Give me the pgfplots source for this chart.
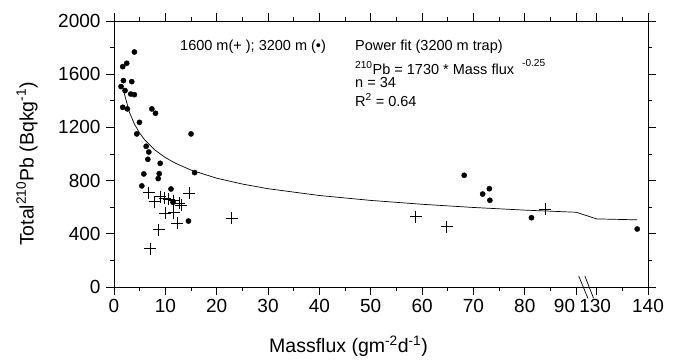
\documentclass[border=0pt]{standalone}
\usepackage{pgfplots}
\pgfplotsset{compat=1.18}
\usepackage{fontspec}
\setmainfont{Liberation Sans}
\begin{document}
\begin{tikzpicture}[x=1pt,y=1pt]
\useasboundingbox (0,0) rectangle (677,361);
\begin{axis}[
  at={(114pt,74pt)}, anchor=south west,
  scale only axis, width=534pt, height=266pt,
  xmin=0, xmax=104, ymin=0, ymax=2000,
  xtick={0,10,20,30,40,50,60,70,80,90,94,104},
  xticklabels={0,10,20,30,40,50,60,70,80,\makebox[0pt][r]{90\hspace{1pt}},\makebox[0pt]{\hspace{-3pt}130},140},
  minor xtick={5,15,25,35,45,55,65,75,85,99},
  ytick={0,400,800,1200,1600,2000},
  yticklabels={0,400,800,1200,1600,2000},
  minor ytick={200,600,1000,1400,1800},
  tick align=outside,
  major tick length=8pt, minor tick length=4pt,
  tick style={black, line width=0.8pt},
  axis line style={line width=0.8pt},
  ticklabel style={font=\fontsize{19}{21}\selectfont},
  xticklabel style={yshift=-1pt},
  yticklabel style={xshift=-2pt},
  clip=false,
]
% 3200 m trap (filled dots); last point x=137.9 drawn at 101.9 (axis break 90|130)
\addplot[only marks, mark=*, mark size=2.6pt, black] coordinates {
(3.98,1767)(1.70,1657)(2.48,1682)(1.83,1552)(1.37,1507)(3.46,1544)(2.15,1477)
(3.26,1451)(3.98,1446)(1.70,1351)(2.61,1339)(7.37,1339)(8.08,1306)(4.96,1238)
(4.44,1151)(15.0,1151)(6.26,1058)(6.78,1015)(6.59,960)(9.0,930)(15.7,860)
(5.81,850)(8.81,852)(8.61,815)(5.42,760)(11.1,737)(14.5,496)(11.5,637)
(68.2,840)(71.8,699)(73.1,739)(73.2,652)(81.3,521)(101.9,436)
};
% 1600 m trap (crosses)
\addplot[only marks, mark=+, mark size=6pt, black, mark options={line width=0.9pt}] coordinates {
(6.8,709)(14.6,705)(7.9,640)(9.0,680)(9.9,668)(10.7,660)(11.6,648)(12.7,630)
(13.1,615)(10.0,554)(11.6,560)(12.3,478)(8.7,430)(7.1,288)(22.9,516)
(58.8,529)(64.8,454)(84.0,584)
};
% power fit 1730*x^-0.25 (tabulated); 130 -> 94, 138 -> 101.9
\addplot[black, line width=0.7pt, no markers] coordinates {
(1.8,1494)(2,1455)(3,1314)(4,1223)(5,1157)(6,1105)(8,1029)(10,973)(12,930)
(15,879)(20,818)(25,774)(30,739)(40,688)(50,651)(60,622)(70,598)(80,578)
(90,562)(94,512)(101.9,505)
};
\draw[line width=0.7pt] (axis cs:90.5,83) -- (axis cs:92.3,-85);
\draw[line width=0.7pt] (axis cs:91.7,83) -- (axis cs:93.4,-85);
\end{axis}
\begin{scope}[every node/.style={font=\fontsize{14.5}{17}\selectfont, inner sep=0pt}]
\node[anchor=west] at (180,314) {1600 m(+ ); 3200 m (•)};
\node[anchor=west] at (355,314) {Power fit (3200 m trap)};
\node[anchor=west] at (355,294) {\textsuperscript{210}Pb = 1730 * Mass flux\ \ \raisebox{2pt}{\textsuperscript{-0.25}}};
\node[anchor=west] at (355,278) {n = 34};
\node[anchor=west] at (355,261) {R\textsuperscript{2} = 0.64};
\end{scope}
\node[rotate=90, font=\fontsize{19.5}{21}\selectfont, inner sep=0pt] at (27,197) {Total\textsuperscript{210}Pb (Bqkg\textsuperscript{-1})};
\node[font=\fontsize{19.5}{21}\selectfont, inner sep=0pt, anchor=base] at (348.5,8) {Massflux (gm\textsuperscript{-2}d\textsuperscript{-1})};
\end{tikzpicture}
\end{document}
